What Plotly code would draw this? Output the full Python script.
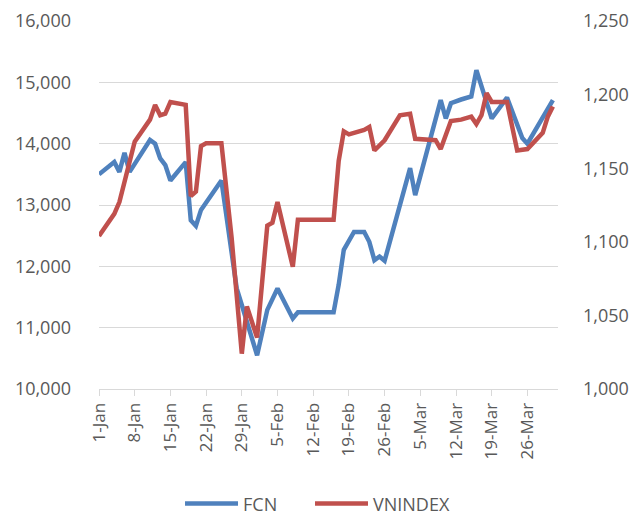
import plotly.graph_objects as go

fcn_dates = ["2018-01-01", "2018-01-04", "2018-01-05", "2018-01-06", "2018-01-07", "2018-01-11",
             "2018-01-12", "2018-01-13", "2018-01-14", "2018-01-15", "2018-01-18", "2018-01-19",
             "2018-01-20", "2018-01-21", "2018-01-25", "2018-01-28", "2018-01-29", "2018-02-01",
             "2018-02-03", "2018-02-04", "2018-02-05", "2018-02-08", "2018-02-09", "2018-02-16",
             "2018-02-17", "2018-02-18", "2018-02-20", "2018-02-22", "2018-02-23", "2018-02-24",
             "2018-02-25", "2018-02-26", "2018-03-03", "2018-03-04", "2018-03-09", "2018-03-10",
             "2018-03-11", "2018-03-13", "2018-03-15", "2018-03-16", "2018-03-19", "2018-03-22",
             "2018-03-25", "2018-03-26", "2018-03-31"]
fcn_values = [13500, 13700, 13540, 13850, 13540, 14060,
              14000, 13760, 13650, 13400, 13700, 12750,
              12660, 12920, 13400, 11640, 11370, 10550,
              11290, 11450, 11640, 11150, 11250, 11250,
              11700, 12270, 12560, 12560, 12400, 12100,
              12160, 12090, 13600, 13160, 14710, 14410,
              14660, 14720, 14770, 15200, 14410, 14750,
              14090, 14000, 14710]

vni_dates = ["2018-01-01", "2018-01-04", "2018-01-05", "2018-01-08", "2018-01-11", "2018-01-12",
             "2018-01-13", "2018-01-14", "2018-01-15", "2018-01-18", "2018-01-19", "2018-01-20",
             "2018-01-21", "2018-01-22", "2018-01-25", "2018-01-27", "2018-01-29", "2018-01-30",
             "2018-02-01", "2018-02-03", "2018-02-04", "2018-02-05", "2018-02-08", "2018-02-09",
             "2018-02-16", "2018-02-17", "2018-02-18", "2018-02-19", "2018-02-22", "2018-02-23",
             "2018-02-24", "2018-02-26", "2018-03-01", "2018-03-03", "2018-03-04", "2018-03-08",
             "2018-03-09", "2018-03-11", "2018-03-13", "2018-03-15", "2018-03-16", "2018-03-17",
             "2018-03-18", "2018-03-19", "2018-03-22", "2018-03-23", "2018-03-24", "2018-03-26",
             "2018-03-29", "2018-03-30", "2018-03-31"]
vni_values = [1104, 1119, 1127, 1168, 1183, 1193,
              1186, 1187, 1195, 1193, 1131, 1134,
              1165, 1167, 1167, 1103, 1024, 1056,
              1035, 1111, 1113, 1127, 1083, 1115,
              1115, 1155, 1175, 1173, 1176, 1178,
              1162, 1169, 1186, 1187, 1170, 1169,
              1163, 1182, 1183, 1185, 1180, 1186,
              1201, 1195, 1195, 1180, 1162, 1163,
              1174, 1185, 1192]

x_tick_vals = ["2018-01-01", "2018-01-08", "2018-01-15", "2018-01-22", "2018-01-29", "2018-02-05",
               "2018-02-12", "2018-02-19", "2018-02-26", "2018-03-05", "2018-03-12", "2018-03-19",
               "2018-03-26"]
x_tick_text = ["1-Jan", "8-Jan", "15-Jan", "22-Jan", "29-Jan", "5-Feb", "12-Feb", "19-Feb",
               "26-Feb", "5-Mar", "12-Mar", "19-Mar", "26-Mar"]
left_ticks = [10000, 11000, 12000, 13000, 14000, 15000, 16000]
right_ticks = [1000, 1050, 1100, 1150, 1200, 1250]

BLUE = "#4F81BD"
RED = "#C0504D"
GRID = "#D9D9D9"
TXT = "#595959"
FONT = "Open Sans"

fig = go.Figure()
fig.add_trace(go.Scatter(x=fcn_dates, y=fcn_values, name="FCN", mode="lines",
                         line=dict(color=BLUE, width=4.5), yaxis="y", legend="legend"))
fig.add_trace(go.Scatter(x=vni_dates, y=vni_values, name="VNINDEX", mode="lines",
                         line=dict(color=RED, width=4.5), yaxis="y2", legend="legend2"))

legend_common = dict(orientation="h", xanchor="left", y=-0.312, yanchor="middle",
                     font=dict(family=FONT, size=18, color=TXT), itemwidth=53,
                     bgcolor="rgba(0,0,0,0)", borderwidth=0)

fig.update_layout(
    width=630, height=508,
    margin=dict(l=91, r=80, t=13, b=127, autoexpand=False),
    paper_bgcolor="white", plot_bgcolor="white",
    font=dict(family=FONT, size=18, color=TXT),
    showlegend=True,
    legend=dict(x=0.1765, **legend_common),
    legend2=dict(x=0.4597, **legend_common),
    xaxis=dict(type="date", range=["2018-01-01", "2018-04-01"], automargin=False,
               tickvals=x_tick_vals, ticktext=x_tick_text, tickangle=-90,
               ticks="outside", ticklen=6, tickcolor=GRID, tickwidth=1,
               showline=True, linecolor=GRID, linewidth=1, showgrid=False, zeroline=False,
               tickfont=dict(family=FONT, size=17, color=TXT)),
    yaxis=dict(range=[10000, 16000], tickvals=left_ticks, tickformat=",", automargin=False,
               showgrid=True, gridcolor=GRID, gridwidth=1, zeroline=False, showline=False,
               ticks="", ticklabelstandoff=27,
               tickfont=dict(family=FONT, size=18, color=TXT)),
    yaxis2=dict(range=[1000, 1250], tickvals=right_ticks, tickformat=",", automargin=False,
                overlaying="y", side="right", showgrid=False, zeroline=False, showline=False,
                ticks="", ticklabelstandoff=24,
                tickfont=dict(family=FONT, size=18, color=TXT)),
)

fig.write_html("out.html")
